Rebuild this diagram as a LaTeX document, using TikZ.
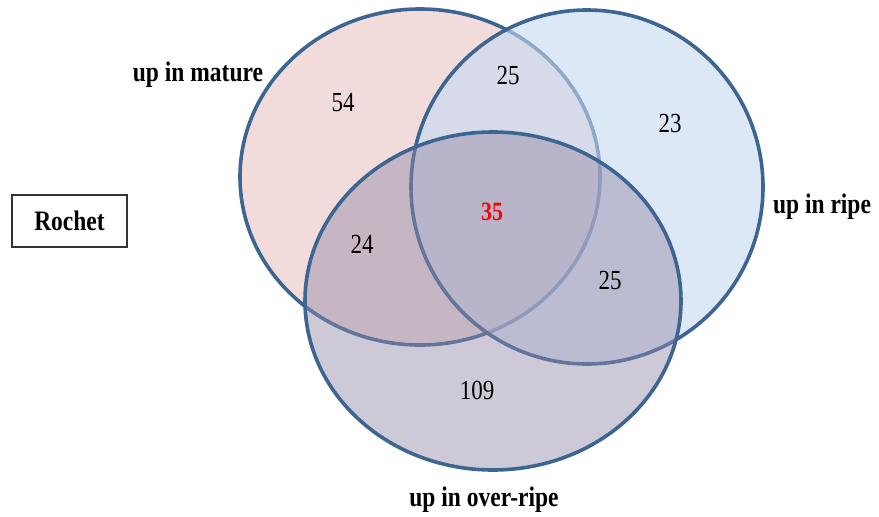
\documentclass[tikz,border=0pt]{standalone}
\usepackage{fontspec}
\setmainfont{Liberation Serif}
\usepackage{graphicx}
\definecolor{rim}{HTML}{3C6592}
\definecolor{pinkfill}{HTML}{F2DCDB}
\definecolor{bluefill}{HTML}{C6D9F1}
\definecolor{purplefill}{HTML}{948AA8}
\newcommand{\tallt}[1]{\scalebox{1}[1.2]{#1}}
\tikzset{
  setrim/.style={draw=rim, line width=3.6pt},
  setlabel/.style={font=\fontsize{23.5}{25}\selectfont\bfseries, inner sep=0pt},
  count/.style={font=\fontsize{23}{25}\selectfont, inner sep=0pt},
}
\begin{document}
\begin{tikzpicture}[x=1pt,y=-1pt]
\useasboundingbox (0,0) rectangle (879,517);
% circles
\path[setrim, fill=pinkfill] (420,177) ellipse [x radius=180, y radius=168];
\path[setrim, fill=bluefill, fill opacity=0.6] (587,187) ellipse [x radius=176, y radius=177];
\path[setrim, fill=purplefill, fill opacity=0.46] (493,301) ellipse [x radius=188, y radius=169];
% counts
\node[count] (n54) at (343,103) {\tallt{54}};
\node[count] (n25a) at (508,75) {\tallt{25}};
\node[count] (n23) at (670,123) {\tallt{23}};
\node[count, text=red, font=\fontsize{22}{24}\selectfont\bfseries] (n35) at (492,212) {\tallt{35}};
\node[count] (n24) at (362,244) {\tallt{24}};
\node[count] (n25b) at (610,280) {\tallt{25}};
\node[count] (n109) at (477,390) {\tallt{109}};
% labels
\node[setlabel] (lmature) at (198,75) {\tallt{up in mature}};
\node[setlabel] (lripe) at (822,207) {\tallt{up in ripe}};
\node[setlabel] (lover) at (484,500) {\tallt{up in over-ripe}};
% Rochet box
\node[draw=black!80, line width=1.5pt, minimum width=115pt, minimum height=52pt, inner sep=0pt,
      font=\fontsize{23.5}{25}\selectfont\bfseries] (rochet) at (69.5,221) {\tallt{Rochet}};
\end{tikzpicture}
\end{document}
